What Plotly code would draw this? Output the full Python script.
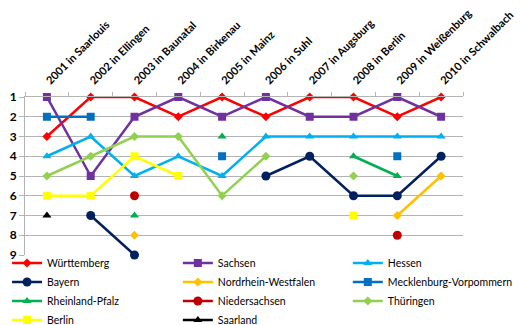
import plotly.graph_objects as go

years = ["2001 in Saarlouis", "2002 in Ellingen", "2003 in Baunatal", "2004 in Birkenau",
         "2005 in Mainz", "2006 in Suhl", "2007 in Augsburg", "2008 in Berlin",
         "2009 in Weißenburg", "2010 in Schwalbach"]

wuerttemberg = [3, 1, 1, 2, 1, 2, 1, 1, 2, 1]
sachsen = [1, 5, 2, 1, 2, 1, 2, 2, 1, 2]
hessen = [4, 3, 5, 4, 5, 3, 3, 3, 3, 3]
bayern = [None, 7, 9, None, None, 5, 4, 6, 6, 4]
nrw = [None, None, 8, None, None, None, None, None, 7, 5]
mv = [2, 2, None, None, 4, None, None, None, 4, None]
rlp = [None, None, 7, None, 3, None, None, 4, 5, None]
niedersachsen = [None, None, 6, None, None, None, None, None, 8, None]
thueringen = [5, 4, 3, 3, 6, 4, None, 5, None, None]
berlin = [6, 6, 4, 5, None, None, None, 7, None, None]
saarland = [7, None, None, None, None, None, None, None, None, None]

y_ticks = [1, 2, 3, 4, 5, 6, 7, 8, 9]

series = [
    ("Württemberg", wuerttemberg, "#FF0000", "diamond", 7, "legend"),
    ("Sachsen", sachsen, "#7030A0", "square", 8, "legend2"),
    ("Hessen", hessen, "#00B0F0", "triangle-up", 8, "legend3"),
    ("Bayern", bayern, "#002060", "circle", 9, "legend"),
    ("Nordrhein-Westfalen", nrw, "#FFC000", "diamond", 7, "legend2"),
    ("Mecklenburg-Vorpommern", mv, "#0070C0", "square", 8, "legend3"),
    ("Rheinland-Pfalz", rlp, "#00B050", "triangle-up", 8, "legend"),
    ("Niedersachsen", niedersachsen, "#C00000", "circle", 9, "legend2"),
    ("Thüringen", thueringen, "#92D050", "diamond", 7, "legend3"),
    ("Berlin", berlin, "#FFFF00", "square", 8, "legend"),
    ("Saarland", saarland, "#000000", "triangle-up", 8, "legend2"),
]

fig = go.Figure()
for name, vals, color, sym, size, leg in series:
    fig.add_trace(go.Scatter(
        x=years, y=vals, name=name, mode="lines+markers",
        line=dict(color=color, width=2.5),
        marker=dict(symbol=sym, size=size, color=color),
        cliponaxis=False, legend=leg,
    ))

FONT = "Lato, 'Open Sans', sans-serif"
GRID = "#B4B4B4"
leg_common = dict(orientation="v", yanchor="top", xanchor="left", y=0.041,
                  font=dict(family=FONT, size=10.5, color="#000000"),
                  bgcolor="rgba(0,0,0,0)", itemwidth=30, tracegroupgap=0)

fig.update_layout(
    width=520, height=325,
    margin=dict(l=25, r=57, t=97, b=70, autoexpand=False),
    paper_bgcolor="white", plot_bgcolor="white",
    font=dict(family=FONT, color="#000000"),
    legend=dict(x=-0.041, **leg_common),
    legend2=dict(x=0.349, **leg_common),
    legend3=dict(x=0.737, **leg_common),
    xaxis=dict(
        side="top", type="category", range=[-0.5, 9.5],
        tickangle=-45, tickson="boundaries", ticks="outside", ticklen=4,
        tickcolor=GRID, showline=True, linecolor=GRID, linewidth=1,
        ticklabelstandoff=5,
        showgrid=False, tickfont=dict(family=FONT, size=11, color="#000000", weight="bold"),
        automargin=False, fixedrange=True,
    ),
    yaxis=dict(
        range=[9, 1], tickvals=y_ticks, ticks="outside", ticklen=5, tickcolor=GRID,
        showgrid=True, gridcolor=GRID, gridwidth=1, zeroline=False,
        showline=True, linecolor=GRID, linewidth=1,
        tickfont=dict(family=FONT, size=12, color="#000000", weight="bold"),
        automargin=False, fixedrange=True,
    ),
)

fig.write_html("out.html")
